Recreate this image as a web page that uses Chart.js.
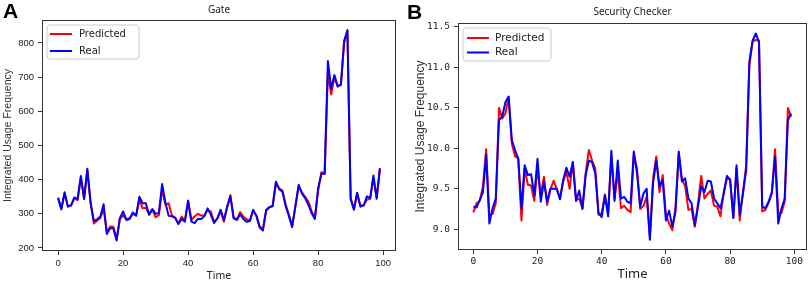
<!DOCTYPE html>
<html>
<head>
<meta charset="utf-8">
<script src="https://cdn.jsdelivr.net/npm/chart.js@4.4.1/dist/chart.umd.min.js"></script>
<style>
  html, body { margin: 0; padding: 0; background: #ffffff; }
  #wrap { position: relative; width: 809px; height: 282px; overflow: hidden; background: #ffffff; }
  canvas { position: absolute; top: 0; }
  .panel-letter { position: absolute; font-family: "Liberation Sans", Arial, sans-serif; font-weight: bold; font-size: 21px; line-height: 21px; color: #000; }
</style>
</head>
<body>
<div id="wrap">
  <canvas id="gateChart" width="404" height="282" style="left:0px"></canvas>
  <canvas id="securityChart" width="405" height="282" style="left:404px"></canvas>
  <div class="panel-letter" style="left:3px; top:0px;">A</div>
  <div class="panel-letter" style="left:407px; top:1px;">B</div>
</div>
<script>
// ---------------- data ----------------
const timeSteps = [0,1,2,3,4,5,6,7,8,9,10,11,12,13,14,15,16,17,18,19,20,21,22,23,24,25,26,27,28,29,30,31,32,33,34,35,36,37,38,39,40,41,42,43,44,45,46,47,48,49,50,51,52,53,54,55,56,57,58,59,60,61,62,63,64,65,66,67,68,69,70,71,72,73,74,75,76,77,78,79,80,81,82,83,84,85,86,87,88,89,90,91,92,93,94,95,96,97,98,99];

const gatePredicted = [348,315,360,322,326,345,340,405,345,428,333,272,280,288,315,245,263,262,225,285,295,284,287,300,296,340,316,318,298,312,290,296,370,327,331,296,288,272,292,280,338,282,292,300,295,295,311,307,277,286,308,277,318,355,290,284,305,292,284,280,309,295,264,254,308,320,322,388,375,368,328,298,264,320,380,363,350,336,307,290,368,422,418,710,650,700,672,680,800,838,348,314,358,324,326,341,344,405,348,430];
const gateReal = [346,313,363,321,324,348,343,411,343,432,331,279,284,292,328,241,258,258,222,287,307,282,285,304,294,350,331,331,297,314,300,302,387,334,294,293,289,270,285,277,338,277,273,285,285,293,316,297,273,287,312,282,321,351,287,282,299,285,277,279,312,294,260,251,312,319,323,394,372,365,323,294,261,323,385,360,346,326,302,285,375,417,417,747,667,706,674,677,807,836,343,312,362,321,324,351,346,412,344,434];

const securityPredicted = [9.21,9.32,9.35,9.53,9.99,9.17,9.19,9.32,10.50,10.37,10.43,10.63,10.06,9.90,9.88,9.11,9.75,9.55,9.54,9.35,9.75,9.42,9.65,9.30,9.49,9.60,9.50,9.38,9.59,9.71,9.50,9.83,9.36,9.38,9.26,9.69,9.98,9.85,9.75,9.18,9.20,9.43,9.20,9.90,9.38,9.71,9.26,9.29,9.24,9.21,9.92,9.75,9.25,9.29,9.40,8.91,9.63,9.90,9.46,9.67,9.18,9.07,8.99,9.28,9.94,9.61,9.53,9.24,9.25,9.03,9.32,9.66,9.38,9.44,9.48,9.29,9.28,9.16,9.46,9.62,9.62,9.14,9.75,9.11,9.46,9.79,11.03,11.32,11.34,11.33,9.22,9.24,9.33,9.44,9.99,9.20,9.20,9.34,10.50,10.39];
const securityReal = [9.28,9.27,9.36,9.46,9.92,9.07,9.26,9.38,10.35,10.39,10.57,10.64,10.10,9.98,9.87,9.26,9.79,9.67,9.68,9.42,9.87,9.34,9.59,9.34,9.50,9.50,9.50,9.37,9.61,9.76,9.65,9.83,9.35,9.48,9.25,9.67,9.85,9.83,9.69,9.20,9.15,9.42,9.16,9.97,9.35,9.85,9.38,9.40,9.34,9.32,9.96,9.69,9.28,9.44,9.50,8.87,9.57,9.85,9.53,9.61,9.11,9.23,9.03,9.22,9.96,9.59,9.63,9.38,9.32,9.05,9.28,9.53,9.46,9.60,9.59,9.38,9.32,9.26,9.44,9.66,9.61,9.14,9.79,9.18,9.44,9.73,11.07,11.33,11.42,11.31,9.28,9.26,9.34,9.46,9.90,9.07,9.26,9.38,10.35,10.43];

const timeTicks = [0,20,40,60,80,100];
const gateYTicks = [200,300,400,500,600,700,800];
const securityYTicks = [9.0,9.5,10.0,10.5,11.0,11.5];

const seriesNames = ['Predicted', 'Real'];
const seriesColors = ['#ff0000', '#0000ff'];

// ---------------- helpers ----------------
const AXIS_COLOR = '#333333';

const panelDeco = {
  id: 'panelDeco',
  afterDatasetsDraw(chart, args, opts) {
    const ctx = chart.ctx;
    const a = chart.chartArea;
    ctx.save();
    // frame (all four spines)
    ctx.strokeStyle = AXIS_COLOR;
    ctx.lineWidth = 1;
    ctx.strokeRect(Math.round(a.left) + 0.5, Math.round(a.top) + 0.5,
                   Math.round(a.right - a.left) - 1, Math.round(a.bottom - a.top) - 1);
    // title
    ctx.fillStyle = '#222';
    ctx.font = opts.titleFont;
    ctx.textAlign = 'center';
    ctx.textBaseline = 'middle';
    ctx.fillText(opts.title, (a.left + a.right) / 2, a.top - opts.titleOffset);
    // legend
    const L = opts.legend;
    const bx = a.left + L.dx, by = a.top + L.dy;
    ctx.beginPath();
    const r = 3;
    ctx.moveTo(bx + r, by);
    ctx.lineTo(bx + L.w - r, by);
    ctx.quadraticCurveTo(bx + L.w, by, bx + L.w, by + r);
    ctx.lineTo(bx + L.w, by + L.h - r);
    ctx.quadraticCurveTo(bx + L.w, by + L.h, bx + L.w - r, by + L.h);
    ctx.lineTo(bx + r, by + L.h);
    ctx.quadraticCurveTo(bx, by + L.h, bx, by + L.h - r);
    ctx.lineTo(bx, by + r);
    ctx.quadraticCurveTo(bx, by, bx + r, by);
    ctx.closePath();
    ctx.fillStyle = 'rgba(255,255,255,0.85)';
    ctx.fill();
    ctx.strokeStyle = '#cccccc';
    ctx.stroke();
    ctx.font = L.font;
    ctx.textAlign = 'left';
    ctx.textBaseline = 'middle';
    chart.data.datasets.forEach((ds, i) => {
      const y = by + L.firstRow + i * L.rowGap;
      ctx.strokeStyle = ds.borderColor;
      ctx.lineWidth = 2;
      ctx.beginPath();
      ctx.moveTo(bx + L.lineX0, y);
      ctx.lineTo(bx + L.lineX1, y);
      ctx.stroke();
      ctx.fillStyle = '#222';
      ctx.fillText(ds.label, bx + L.textX, y);
    });
    ctx.restore();
  }
};

function makeChart(canvasId, cfg) {
  return new Chart(document.getElementById(canvasId), {
    type: 'line',
    data: {
      labels: timeSteps,
      datasets: [
        { label: seriesNames[0], data: cfg.predicted, borderColor: seriesColors[0], backgroundColor: seriesColors[0], order: 2 },
        { label: seriesNames[1], data: cfg.real, borderColor: seriesColors[1], backgroundColor: seriesColors[1], order: 1 }
      ]
    },
    options: {
      responsive: false,
      animation: false,
      devicePixelRatio: 1,
      layout: { padding: cfg.padding },
      elements: {
        line: { borderWidth: 2, tension: 0, borderJoinStyle: 'round', borderCapStyle: 'butt' },
        point: { radius: 0, hoverRadius: 0 }
      },
      plugins: {
        legend: { display: false },
        tooltip: { enabled: false },
        title: { display: false },
        panelDeco: cfg.deco
      },
      scales: {
        x: {
          type: 'linear',
          min: cfg.xMin, max: cfg.xMax,
          afterFit: s => { s.height = cfg.xHeight; },
          afterBuildTicks: s => { s.ticks = timeTicks.map(v => ({ value: v })); },
          ticks: { font: cfg.xTickFont, color: '#222', padding: cfg.xTickPad, maxRotation: 0, autoSkip: false },
          grid: { display: true, drawOnChartArea: false, drawTicks: true, tickLength: 4, color: AXIS_COLOR, tickColor: AXIS_COLOR },
          border: { display: false },
          title: { display: true, text: 'Time', font: cfg.xTitleFont, color: '#222', padding: { top: 0, bottom: cfg.xTitlePad } }
        },
        y: {
          type: 'linear',
          min: cfg.yMin, max: cfg.yMax,
          afterFit: s => { s.width = cfg.yWidth; },
          afterBuildTicks: s => { s.ticks = cfg.yTicks.map(v => ({ value: v })); },
          ticks: { font: cfg.yTickFont, color: '#222', padding: 4, callback: cfg.yFormat },
          grid: { display: true, drawOnChartArea: false, drawTicks: true, tickLength: 4, color: AXIS_COLOR, tickColor: AXIS_COLOR },
          border: { display: false },
          title: { display: true, text: 'Integrated Usage Frequency', font: cfg.yTitleFont, color: '#333', padding: { top: cfg.yTitlePad, bottom: 0 } }
        }
      }
    },
    plugins: [panelDeco]
  });
}

makeChart('gateChart', {
  predicted: gatePredicted,
  real: gateReal,
  padding: { top: 20, right: 8, bottom: 0, left: 0 },
  xMin: -4.95, xMax: 103.95,
  yMin: 191.2, yMax: 867.3,
  yTicks: gateYTicks,
  yFormat: v => String(v),
  xHeight: 31, yWidth: 42,
  xTickFont: { family: 'Liberation Sans', size: 9.5 },
  yTickFont: { family: 'Liberation Sans', size: 9.5 },
  xTickPad: 3,
  xTitleFont: { family: 'Noto Sans', size: 10.5, lineHeight: 1.2 },
  xTitlePad: 0,
  yTitleFont: { family: 'Liberation Sans', size: 10.5, lineHeight: 1.2 },
  yTitlePad: 2,
  deco: {
    title: 'Gate', titleFont: '10px "Noto Sans"', titleOffset: 10,
    legend: { dx: 5, dy: 5, w: 92, h: 34, firstRow: 9, rowGap: 17, lineX0: 3, lineX1: 25, textX: 32, font: '10px "DejaVu Sans"' }
  }
});

makeChart('securityChart', {
  predicted: securityPredicted,
  real: securityReal,
  padding: { top: 23, right: 2, bottom: 0, left: 0 },
  xMin: -4.77, xMax: 103.95,
  yMin: 8.744, yMax: 11.549,
  yTicks: securityYTicks,
  yFormat: v => Number(v).toFixed(1),
  xHeight: 32, yWidth: 54,
  xTickFont: { family: 'DejaVu Sans Mono', size: 9.5 },
  yTickFont: { family: 'DejaVu Sans Mono', size: 9.5 },
  xTickPad: 2,
  xTitleFont: { family: 'Noto Sans', size: 13, lineHeight: 1.2 },
  xTitlePad: 0,
  yTitleFont: { family: 'Liberation Sans', size: 12, lineHeight: 1.2 },
  yTitlePad: 9,
  deco: {
    title: 'Security Checker', titleFont: '10px "Noto Sans"', titleOffset: 11,
    legend: { dx: 5, dy: 5, w: 88, h: 33, firstRow: 10, rowGap: 14.5, lineX0: 4, lineX1: 26, textX: 32, font: '10.5px "DejaVu Sans"' }
  }
});
</script>
</body>
</html>
